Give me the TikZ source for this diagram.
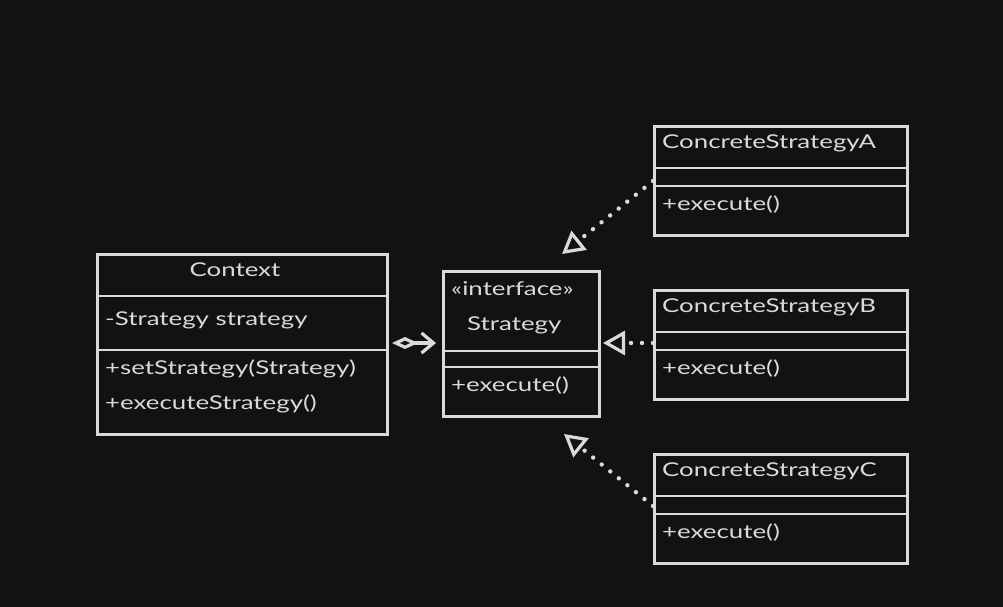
\documentclass[tikz,border=0pt]{standalone}
\usepackage{fontspec}
\setmainfont[FakeStretch=1.36]{Lato}
\usetikzlibrary{arrows.meta,calc}
\definecolor{bg}{HTML}{121212}
\definecolor{ink}{HTML}{DADADA}
\tikzset{
  umlbox/.style={draw=ink, line width=3pt, fill=bg, anchor=north west, inner sep=0pt},
  divider/.style={draw=ink, line width=2.6pt},
  lbl/.style={text=ink, font=\fontsize{19}{22}\selectfont, inner sep=0pt, anchor=west},
  ctr/.style={lbl, anchor=center},
  realize/.style={draw=ink, line width=4.4pt, line cap=round, dash pattern=on 0pt off 11pt,
    -{Triangle[open, length=22pt, width=24pt, line width=3.2pt, fill=bg]}},
  aggr/.style={draw=ink, line width=3.2pt,
    {Diamond[open, length=26pt, width=12pt, fill=bg]}-{Straight Barb[length=12pt, width=20pt]}},
}
\begin{document}
\begin{tikzpicture}[x=1pt, y=-1pt]
\useasboundingbox (0,0) rectangle (1003,607);
\fill[bg] (0,0) rectangle (1003,607);

% Context class
\node[umlbox, minimum width=290pt, minimum height=180pt] (ctx) at (96,253) {};
\draw[divider] ($(ctx.north west)+(0,43)$) -- ($(ctx.north east)+(0,43)$);
\draw[divider] ($(ctx.north west)+(0,97)$) -- ($(ctx.north east)+(0,97)$);
\node[ctr] (ctxname) at (235,270) {Context};
\node[lbl] (ctxattr) at (105,320) {-Strategy strategy};
\node[lbl] (ctxm1) at (105,369) {+setStrategy(Strategy)};
\node[lbl] (ctxm2) at (105,404) {+executeStrategy()};

% Strategy interface
\node[umlbox, minimum width=156pt, minimum height=145pt] (strat) at (442,270) {};
\draw[divider] ($(strat.north west)+(0,81)$) -- ($(strat.north east)+(0,81)$);
\draw[divider] ($(strat.north west)+(0,97)$) -- ($(strat.north east)+(0,97)$);
\node[lbl] (stster) at (451,289) {«interface»};
\node[lbl] (stname) at (467,325) {Strategy};
\node[lbl] (stm) at (451,386) {+execute()};

% Concrete strategies
\foreach \nm/\y/\t in {ca/125/ConcreteStrategyA, cb/289/ConcreteStrategyB, cc/453/ConcreteStrategyC}{
  \node[umlbox, minimum width=253pt, minimum height=109pt] (\nm) at (653,\y) {};
  \draw[divider] ($(\nm.north west)+(0,43)$) -- ($(\nm.north east)+(0,43)$);
  \draw[divider] ($(\nm.north west)+(0,61)$) -- ($(\nm.north east)+(0,61)$);
  \node[lbl] (\nm name) at (662,\y+18) {\t};
  \node[lbl] (\nm op) at (662,\y+80) {+execute()};
}

% Relations
\coordinate (caend) at (562,254);
\coordinate (ccend) at (564,434);
\draw[aggr] ($(ctx.east |- 0,343)+(3,0)$) -- ($(strat.west |- 0,343)+(-6,0)$);
\draw[realize] (ca.west |- 0,181) -- (caend);
\draw[realize] (cb.west |- 0,343) -- ($(strat.east |- 0,343)+(2,0)$);
\draw[realize] (cc.west |- 0,506) -- (ccend);
\end{tikzpicture}
\end{document}
